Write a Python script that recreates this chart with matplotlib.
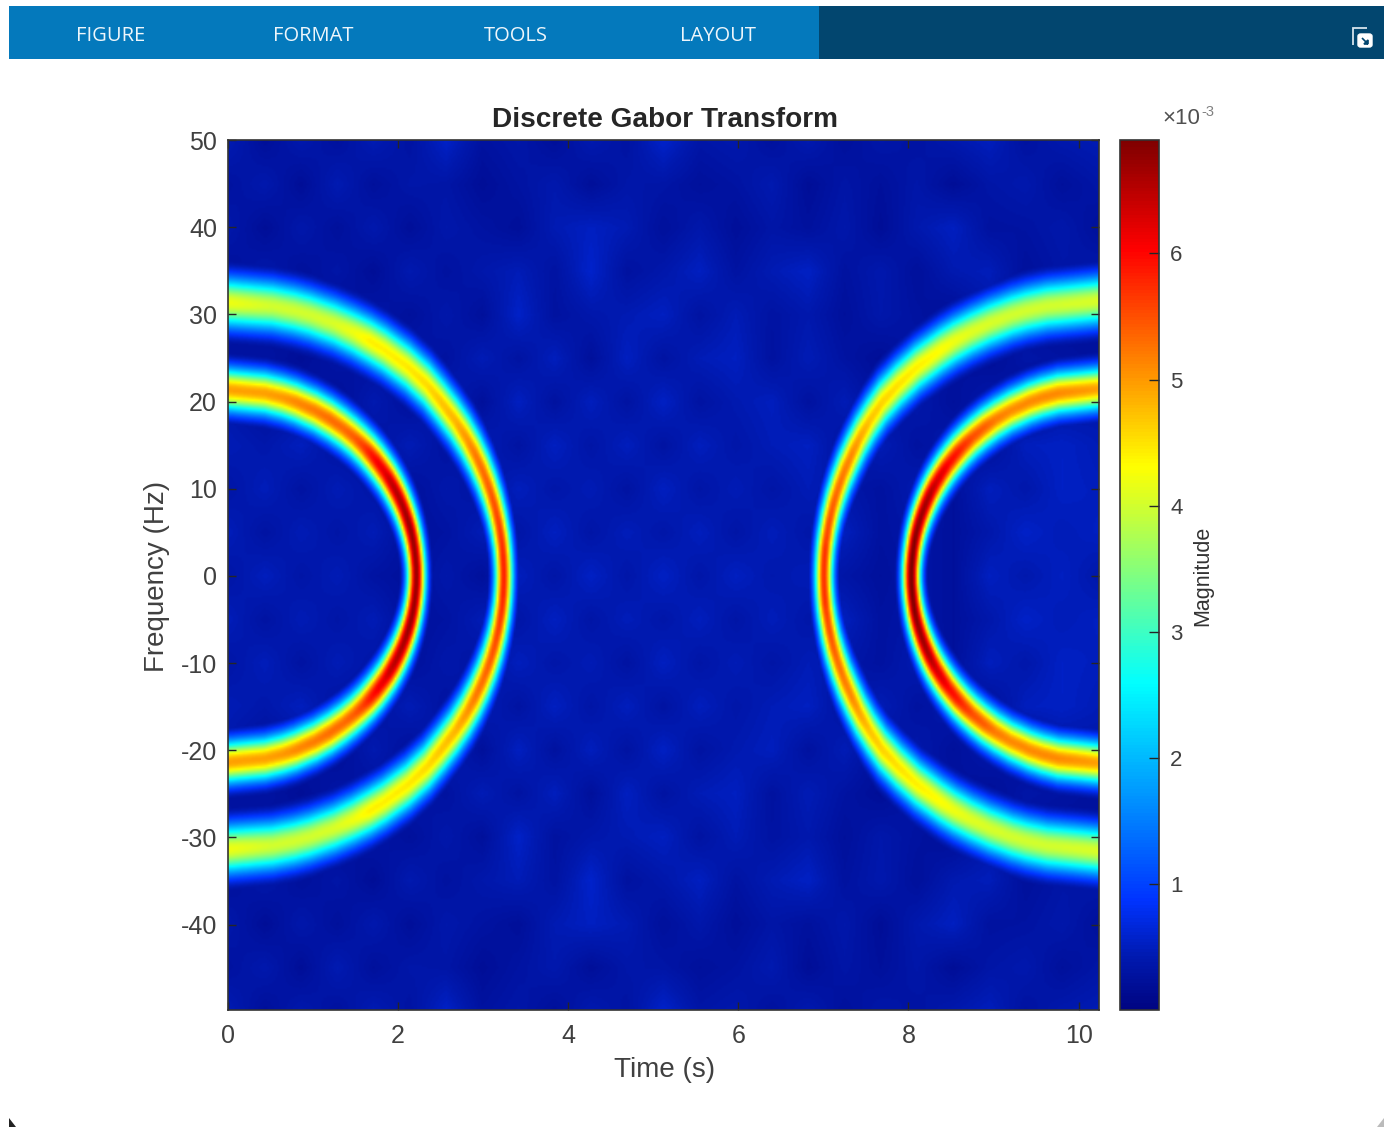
import matplotlib
matplotlib.use("Agg")
import matplotlib.pyplot as plt
from matplotlib.colors import LinearSegmentedColormap
from matplotlib.patches import Polygon, Rectangle, FancyBboxPatch
import numpy as np

plt.rcParams['font.family'] = ['Liberation Sans', 'DejaVu Sans']

W, H = 1384, 1127

# ridges: time (s), frequency (Hz, the lower half mirrors it), magnitude (x1e-3)
left_inner_t = [2.21, 2.208, 2.20, 2.188, 2.171, 2.149, 2.121, 2.088, 2.05, 2.005, 1.954, 1.896, 1.83, 1.755, 1.671, 1.576, 1.468, 1.342, 1.195, 1.017, .786, .634, .425, 0]
left_inner_f = [0, 1, 2, 3, 4, 5, 6, 7, 8, 9, 10, 11, 12, 13, 14, 15, 16, 17, 18, 19, 20, 20.5, 21, 21.4]
left_inner_m = [6.7, 6.7, 6.7, 6.7, 6.7, 6.7, 6.7, 6.65, 6.6, 6.55, 6.5, 6.4, 6.2, 6.1, 5.9, 5.6, 5.4, 5.3, 5.3, 5.2, 5.1, 5.0, 4.95, 4.95]

left_outer_t = [3.24, 3.238, 3.233, 3.225, 3.214, 3.18, 3.133, 3.071, 2.994, 2.90, 2.788, 2.655, 2.498, 2.33, 2.11, 1.83, 1.66, 1.467, 1.243, .957, .77, .514, 0]
left_outer_f = [0, 1, 2, 3, 4, 6, 8, 10, 12, 14, 16, 18, 20, 22, 24, 26, 27, 28, 29, 30, 30.5, 31, 31.4]
left_outer_m = [5.8, 5.8, 5.8, 5.75, 5.7, 5.6, 5.5, 5.4, 5.3, 5.2, 5.0, 4.8, 4.7, 4.55, 4.45, 4.4, 4.4, 4.2, 4.05, 4.0, 4.0, 4.0, 4.2]

right_outer_t = [7.01, 7.012, 7.017, 7.025, 7.036, 7.069, 7.115, 7.176, 7.25, 7.34, 7.44, 7.56, 7.7, 7.89, 8.11, 8.39, 8.55, 8.74, 8.958, 9.226, 9.4, 9.64, 10.24]
right_outer_f = [0, 1, 2, 3, 4, 6, 8, 10, 12, 14, 16, 18, 20, 22, 24, 26, 27, 28, 29, 30, 30.5, 31, 31.6]
right_outer_m = [5.7, 5.7, 5.7, 5.7, 5.6, 5.5, 5.4, 5.3, 5.2, 5.1, 4.9, 4.7, 4.6, 4.5, 4.4, 4.3, 4.2, 4.1, 4.05, 4.0, 4.0, 4.0, 4.05]

right_inner_t = [8.04, 8.042, 8.05, 8.062, 8.078, 8.10, 8.127, 8.16, 8.198, 8.242, 8.292, 8.35, 8.415, 8.488, 8.57, 8.664, 8.77, 8.893, 9.037, 9.21, 9.433, 9.58, 9.77, 10.24]
right_inner_f = [0, 1, 2, 3, 4, 5, 6, 7, 8, 9, 10, 11, 12, 13, 14, 15, 16, 17, 18, 19, 20, 20.5, 21, 21.5]
right_inner_m = [6.9, 6.9, 6.9, 6.85, 6.85, 6.8, 6.75, 6.7, 6.65, 6.6, 6.45, 6.3, 6.2, 6.0, 5.9, 5.7, 5.5, 5.4, 5.2, 5.1, 5.1, 5.1, 5.1, 4.95]

# background level estimated by eye, rows from 50 Hz down to 0 Hz
background_f = [50, 45, 40, 35, 30, 25, 20, 15, 10, 5, 0]
background = [
    [.45, .22, .40, .26, .45, .30, .56, .28, .36, .22, .42, .30, .58, .34, .40, .26, .42, .24, .36, .30, .40, .50, .28, .40, .45],
    [.28, .40, .20, .44, .24, .36, .34, .20, .30, .40, .22, .36, .34, .24, .30, .42, .20, .34, .24, .36, .20, .34, .40, .24, .34],
    [.38, .20, .38, .24, .40, .22, .38, .30, .22, .44, .52, .44, .24, .38, .22, .34, .26, .38, .20, .40, .52, .28, .30, .38, .24],
    [.24, .38, .24, .34, .20, .42, .28, .38, .46, .30, .58, .28, .38, .52, .30, .44, .54, .28, .40, .24, .42, .48, .24, .34, .38],
    [.34, .20, .38, .20, .34, .24, .38, .24, .56, .28, .38, .44, .52, .30, .46, .30, .40, .24, .38, .28, .20, .38, .28, .20, .30],
    [.28, .30, .20, .34, .24, .38, .28, .46, .30, .50, .24, .52, .30, .46, .52, .28, .46, .30, .20, .34, .28, .20, .34, .30, .24],
    [.38, .24, .34, .20, .42, .24, .46, .24, .52, .28, .50, .30, .54, .30, .42, .50, .28, .46, .24, .38, .24, .38, .20, .34, .38],
    [.46, .38, .50, .30, .28, .46, .28, .46, .30, .52, .34, .50, .30, .50, .36, .46, .52, .30, .46, .28, .38, .24, .50, .54, .46],
    [.34, .48, .30, .46, .34, .24, .38, .30, .50, .36, .46, .30, .52, .34, .46, .34, .46, .36, .28, .42, .24, .50, .38, .54, .50],
    [.48, .30, .46, .34, .46, .24, .30, .46, .34, .52, .34, .48, .36, .50, .34, .48, .36, .50, .28, .34, .24, .38, .56, .46, .52],
    [.34, .50, .34, .46, .30, .24, .38, .24, .50, .34, .54, .36, .54, .36, .52, .40, .46, .34, .24, .34, .24, .52, .40, .52, .38],
]

x_ticks = [0, 2, 4, 6, 8, 10]
y_ticks = [50, 40, 30, 20, 10, 0, -10, -20, -30, -40]
y_tick_labels = ['50', '40', '30', '20', '10', '0', '-10', '-20', '-30', '-40']
bar_ticks = [1, 2, 3, 4, 5, 6]
tab_names = ['FIGURE', 'FORMAT', 'TOOLS', 'LAYOUT']
tab_centers = [111, 313, 516, 718]


def px_rect(x0, y0, x1, y1):
    # pixel box (y from the top) to figure fractions
    return [x0 / W, 1 - y1 / H, (x1 - x0) / W, (y1 - y0) / H]


def ridge_level(tt, ff, t, f, m, sigma_f, sigma_t=0.078):
    # strongest gaussian response to the ridge polyline
    t, f, m = np.array(t), np.array(f), np.array(m)
    best = np.zeros_like(tt)
    for i in range(len(t) - 1):
        dt, df = (t[i + 1] - t[i]) / sigma_t, (f[i + 1] - f[i]) / sigma_f
        px, py = (tt - t[i]) / sigma_t, (ff - f[i]) / sigma_f
        u = np.clip((px * dt + py * df) / (dt * dt + df * df), 0, 1)
        d2 = (px - u * dt) ** 2 + (py - u * df) ** 2
        best = np.maximum(best, (m[i] + u * (m[i + 1] - m[i])) * np.exp(-0.5 * d2))
    return best


times = np.linspace(0, 10.24, 512)
freqs = np.linspace(-49.8, 50, 500)
tt, ff = np.meshgrid(times, np.abs(freqs))

# background rows and columns spread over the image
bg = np.array(background)[::-1]
bg_t = np.linspace(0, 10.24, bg.shape[1])
bg_f = np.array(background_f)[::-1]
bg_cols = np.array([np.interp(np.abs(freqs), bg_f, bg[:, j]) for j in range(bg.shape[1])])
bg_img = np.array([np.interp(times, bg_t, bg_cols[:, i]) for i in range(len(freqs))])

ridges = np.zeros_like(tt)
for t, f, m, sf in [(left_inner_t, left_inner_f, left_inner_m, 1.75), (left_outer_t, left_outer_f, left_outer_m, 2.05),
                    (right_outer_t, right_outer_f, right_outer_m, 2.05), (right_inner_t, right_inner_f, right_inner_m, 1.75)]:
    ridges = np.maximum(ridges, ridge_level(tt, ff, t, f, m, sf))
magnitude = np.maximum(bg_img, ridges)

# jet as the reference shows it, a little green in the low blues
jet_like = LinearSegmentedColormap.from_list('jet_like', [
    (0, (0, .02, .51)), (.06, (0, .10, .69)), (.125, (0, .20, 1)), (.375, (0, 1, 1)),
    (.625, (1, 1, 0)), (.875, (1, 0, 0)), (1, (.5, 0, 0))], N=256)

fig = plt.figure(figsize=(W / 100, H / 100), dpi=100, facecolor='white')

# toolbar strip
fig.add_artist(Rectangle((9 / W, 1 - 59 / H), 1375 / W, 53 / H, transform=fig.transFigure, fc='#02466f', ec='none'))
fig.add_artist(Rectangle((9 / W, 1 - 59 / H), 810 / W, 53 / H, transform=fig.transFigure, fc='#0479bc', ec='none'))
for name, cx in zip(tab_names, tab_centers):
    fig.text(cx / W, 1 - 36 / H, name, color='#eef6fb', fontsize=14.5, family='Open Sans', ha='center', va='center')

# undock icon
fig.add_artist(Polygon(np.array([[1353, 45], [1353, 28], [1367, 28]]) / [W, -H] + [0, 1], closed=False,
                       transform=fig.transFigure, fc='none', ec='#d5e3ec', lw=1.3))
fig.add_artist(FancyBboxPatch((1358 / W, 1 - 47 / H), 14 / W, 13 / H, boxstyle='round,pad=0,rounding_size=0.002',
                              transform=fig.transFigure, fc='white', ec='white', lw=1))
fig.add_artist(Polygon(np.array([[1362, 38], [1368, 44], [1368, 40], [1364, 44], [1368, 44]]) / [W, -H] + [0, 1],
                       closed=False, transform=fig.transFigure, fc='none', ec='#02466f', lw=1.2))

# window corners at the bottom
fig.add_artist(Polygon(np.array([[9, 1118], [9, 1127], [16, 1127]]) / [W, -H] + [0, 1], transform=fig.transFigure,
                       fc='#222222', ec='none'))
fig.add_artist(Polygon(np.array([[1384, 1118], [1384, 1127], [1377, 1127]]) / [W, -H] + [0, 1], transform=fig.transFigure,
                       fc='#bbbbbb', ec='none'))

ax = fig.add_axes(px_rect(228, 140, 1099, 1010))
im = ax.imshow(magnitude, origin='lower', extent=[0, 10.24, -49.8, 50], aspect='auto', cmap=jet_like,
               vmin=0, vmax=6.9, interpolation='bilinear')
ax.set_xlim(0, 10.24)
ax.set_ylim(-49.8, 50)
ax.set_xticks(x_ticks)
ax.set_yticks(y_ticks)
ax.set_yticklabels(y_tick_labels)
ax.tick_params(axis='y', pad=8)
ax.tick_params(axis='x', pad=10)
ax.tick_params(direction='in', top=True, right=True, length=6, width=1, color='#262626', labelcolor='#404040',
               labelsize=18)
for spine in ax.spines.values():
    spine.set_color('#333333')
    spine.set_linewidth(1.2)

fig.text(665 / W, 1 - 120 / H, 'Discrete Gabor Transform', fontsize=20.2, fontweight='bold', color='#262626',
         ha='center', va='center')
fig.text(665 / W, 1 - 1070 / H, 'Time (s)', fontsize=20, color='#404040', ha='center', va='center')
fig.text(157 / W, 1 - 576 / H, 'Frequency (Hz)', fontsize=20, color='#404040', rotation=90, ha='center', va='center')

cax = fig.add_axes(px_rect(1120, 140, 1159, 1010))
bar = fig.colorbar(im, cax=cax)
bar.set_ticks(bar_ticks)
bar.ax.tick_params(direction='in', length=7, width=1, color='#262626', labelcolor='#404040', labelsize=16, pad=8)
bar.outline.set_edgecolor('#333333')
bar.outline.set_linewidth(1.2)
fig.text(1203 / W, 1 - 576 / H, 'Magnitude', fontsize=15.5, color='#333333', rotation=90, ha='center', va='center')
fig.text(1162 / W, 1 - 118 / H, '\u00d710', fontsize=16, color='#505050', ha='left', va='center')
fig.text(1201 / W, 1 - 112 / H, '-3', fontsize=10.5, color='#808080', ha='left', va='center')

fig.savefig('out.png', dpi=100)
